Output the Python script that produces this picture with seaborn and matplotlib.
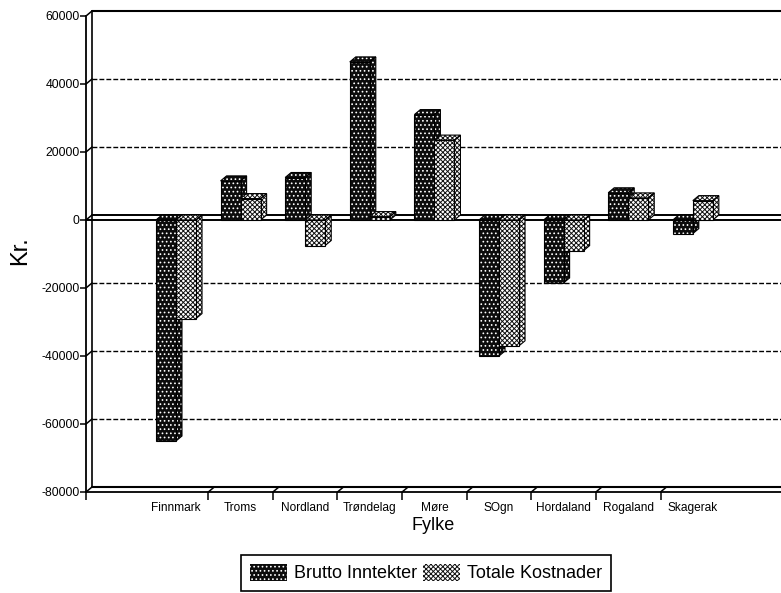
import numpy as np
import pandas as pd
import matplotlib
matplotlib.use('Agg')
import matplotlib.pyplot as plt
from matplotlib.patches import Polygon, Patch
from matplotlib.transforms import IdentityTransform
import seaborn as sns

fylke = ['Finnmark', 'Troms', 'Nordland', 'Trøndelag', 'Møre', 'SOgn', 'Hordaland', 'Rogaland', 'Skagerak']
brutto = [-65000, 11500, 12500, 46500, 31000, -40000, -18500, 8000, -4000]
kostnader = [-29000, 6300, -7500, 1000, 23500, -37000, -9000, 6500, 5700]
serier = ['Brutto Inntekter', 'Totale Kostnader']
y_ticks = [60000, 40000, 20000, 0, -20000, -40000, -60000, -80000]

sns.set_theme(style='white')
plt.rcParams['font.family'] = ['Liberation Sans', 'DejaVu Sans']
plt.rcParams['hatch.linewidth'] = 0.7

df = pd.DataFrame({'fylke': fylke * 2,
                   'kr': brutto + kostnader,
                   'serie': [serier[0]] * 9 + [serier[1]] * 9})

fig = plt.figure(figsize=(7.81, 5.93), dpi=100)
W, H = 781, 593
ax = fig.add_axes([86 / W, 1 - 492 / H, (W - 86) / W, (492 - 16) / H])
sns.barplot(data=df, x='fylke', y='kr', hue='serie', hue_order=serier, order=fylke,
            width=0.62, gap=0, legend=False, ax=ax, errorbar=None)
ax.set_xlim(-1.393, 9.365)
ax.set_ylim(-80000, 60000)

# depth of the fake 3D look, in pixels
dx, dy = 6, 5
tr = IdentityTransform()


def px(x, y):
    return ax.transData.transform((x, y))


def back_line(x0, x1, y, **kw):
    a, b = px(x0, y), px(x1, y)
    ax.plot([a[0] + dx, b[0]], [a[1] + dy, b[1] + dy], transform=tr, clip_on=False, **kw)


# walls
for v in y_ticks:
    if v in (60000, -80000):
        back_line(-1.393, 9.365, v, color='black', lw=1.5, zorder=1.5)
    elif v == 0:
        back_line(-1.393, 9.365, v, color='black', lw=1.4, zorder=1.5)
        ax.axhline(0, color='black', lw=1.4, zorder=1.5)
    else:
        back_line(-1.393, 9.365, v, color='black', lw=1.0, ls=(0, (3.5, 1.5)), zorder=1.5)
    p = px(-1.393, v)
    ax.plot([p[0], p[0] + dx], [p[1], p[1] + dy], transform=tr, color='black', lw=1.1,
            clip_on=False, zorder=1.6)

a, b = px(-1.393, -80000), px(-1.393, 60000)
ax.plot([a[0] + dx] * 2, [a[1] + dy, b[1] + dy], transform=tr, color='black', lw=1.2, clip_on=False, zorder=1.6)

# slanted floor ticks between the categories
grenser = np.arange(8) + 0.5
for g in grenser:
    p = px(g, -80000)
    ax.plot([p[0], p[0] + dx], [p[1], p[1] + dy], transform=tr, color='black', lw=1.1,
            clip_on=False, zorder=1.6)

# bars: stipple pattern plus side and top faces
stil = [('#0c0c0c', 'white', '....'), ('white', '#111111', 'xxxxxxx')]
for n, cont in enumerate(ax.containers):
    fc, hc, hatch = stil[n]
    z = 3 + n
    for bar in cont:
        bb = bar.get_bbox()
        x0, x1, y0, y1 = bb.x0, bb.x1, min(bb.y0, bb.y1), max(bb.y0, bb.y1)
        ll, lr, ur, ul = px(x0, y0), px(x1, y0), px(x1, y1), px(x0, y1)
        d = np.array([dx, dy])
        top = [ul, ur, ur + d, ul + d]
        side = [lr, lr + d, ur + d, ur]
        for pts in (side, top):
            ax.add_patch(Polygon(pts, closed=True, facecolor=fc, edgecolor=hc, hatch=hatch, lw=0,
                                 transform=tr, clip_on=False, zorder=z))
            ax.add_patch(Polygon(pts, closed=True, fill=False, edgecolor='black', lw=0.8,
                                 transform=tr, clip_on=False, zorder=z + 0.05))
        bar.set_facecolor(fc)
        bar.set_edgecolor(hc)
        bar.set_hatch(hatch)
        bar.set_linewidth(0)
        bar.set_zorder(z + 0.1)
        ax.add_patch(Polygon([ll, lr, ur, ul], closed=True, fill=False, edgecolor='black', lw=0.8,
                             transform=tr, clip_on=False, zorder=z + 0.2))

for s in ['top', 'right']:
    ax.spines[s].set_visible(False)
for s in ['left', 'bottom']:
    ax.spines[s].set_color('black')
    ax.spines[s].set_linewidth(1.3)

ax.set_yticks(y_ticks)
ax.set_yticklabels([str(v) for v in y_ticks], fontsize=8.8)
ax.tick_params(axis='y', left=True, length=4, width=1.1, color='black', pad=0.5, labelcolor='black')
ax.set_xticks(range(len(fylke)))
ax.set_xticklabels(fylke, fontsize=8.6, color='black')
ax.set_xticks(list(grenser) + [-1.393], minor=True)
ax.tick_params(axis='x', which='major', bottom=False, pad=1.5)
ax.tick_params(axis='x', which='minor', bottom=True, length=6, width=1.1, color='black')
ax.set_xlabel('')
ax.set_ylabel('')

fig.text(433 / W, 1 - 525 / H, 'Fylke', fontsize=13, ha='center', va='center', color='black')
fig.text(20 / W, 1 - 251 / H, 'Kr.', fontsize=17, rotation=90, ha='center', va='center', color='black')

handles = [Patch(facecolor=stil[i][0], edgecolor=stil[i][1], hatch=stil[i][2], lw=0) for i in range(2)]
leg = fig.legend(handles, serier, loc='center', bbox_to_anchor=(426 / W, 1 - 573 / H), ncol=2,
                 fontsize=13, frameon=True, fancybox=False, edgecolor='black', framealpha=1,
                 handlelength=2.05, handleheight=1.1, columnspacing=0.3, handletextpad=0.4,
                 borderpad=0.5, labelcolor='black')
leg.get_frame().set_linewidth(1.2)

fig.savefig('out.png', dpi=100)
